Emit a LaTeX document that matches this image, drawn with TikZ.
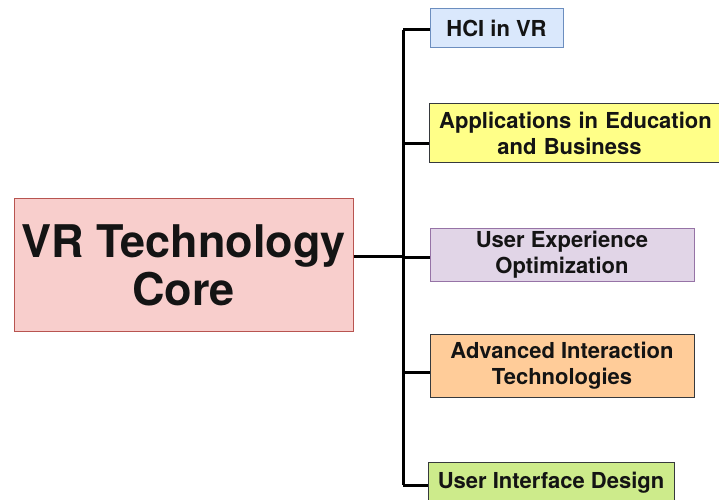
\documentclass[tikz,border=0pt]{standalone}
\usepackage{fontspec}
\setmainfont{TeX Gyre Heros}
\definecolor{corefill}{HTML}{F8CECC}\definecolor{coreline}{HTML}{B85450}
\definecolor{hcifill}{HTML}{DAE8FC}\definecolor{hciline}{HTML}{6C8EBF}
\definecolor{appfill}{HTML}{FFFF88}\definecolor{darkline}{HTML}{36393D}
\definecolor{uxfill}{HTML}{E1D5E7}\definecolor{uxline}{HTML}{9673A6}
\definecolor{aitfill}{HTML}{FFCC99}
\definecolor{uidfill}{HTML}{CDEB8B}
\definecolor{txt}{HTML}{141414}
\tikzset{
  box/.style={draw, line width=1pt, inner sep=0pt, align=center, text=txt,
    font=\fontsize{22}{26}\selectfont\bfseries},
  conn/.style={line width=3pt, black}
}
\begin{document}
\begin{tikzpicture}[x=1pt,y=1pt]
\clip (0,0) rectangle (719,499);
\fill[white] (0,0) rectangle (719,499);
% boxes (y measured from top: tikz y = 499 - y)
\node[box, fill=corefill, draw=coreline, minimum width=339pt, minimum height=133pt,
  font=\fontsize{45}{48}\selectfont\bfseries] (core) at (183.5,234) {VR Technology\\Core};
\node[box, fill=hcifill, draw=hciline, minimum width=133pt, minimum height=39pt] (hci) at (496.5,470.5) {HCI in VR};
\node[box, fill=appfill, draw=darkline, minimum width=293pt, minimum height=58pt, text width=293pt] (app) at (575.5,366) {Applications in Education\\\hspace*{-12pt}and Business};
\node[box, fill=uxfill, draw=uxline, minimum width=264pt, minimum height=53pt] (ux) at (562,244.5) {User Experience\\Optimization};
\node[box, fill=aitfill, draw=darkline, minimum width=264pt, minimum height=63pt] (ait) at (562,133.5) {Advanced Interaction\\Technologies};
\node[box, fill=uidfill, draw=darkline, minimum width=246pt, minimum height=42pt] (uid) at (551,16) {User Interface Design};
% connector coordinates
\coordinate (hub) at (403,243);
\coordinate (b1) at (403,469);
\coordinate (b2) at (403,356);
\coordinate (b3) at (403,242);
\coordinate (b4) at (403,127);
\coordinate (b5) at (403,14);
\draw[conn] (core.east |- hub) -- (hub);
\draw[conn] (b1) -- (b5);
\draw[conn] (b1) -- (hci.west |- b1);
\draw[conn] (b2) -- (app.west |- b2);
\draw[conn] (b3) -- (ux.west |- b3);
\draw[conn] (b4) -- (ait.west |- b4);
\draw[conn] (b5) -- (uid.west |- b5);
\end{tikzpicture}
\end{document}
